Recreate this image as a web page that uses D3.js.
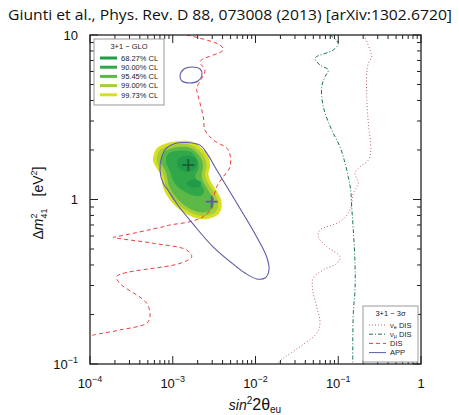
<!DOCTYPE html>
<html><head><meta charset="utf-8">
<script src="https://cdn.jsdelivr.net/npm/d3@7"></script>
<style>body{margin:0;background:#fff}svg{display:block}</style>
</head><body>
<svg id="c" width="459" height="415"></svg>
<script>
// ---- data: [sin^2 2theta, dm^2 (eV^2)] ----
const disCurve = [[1.474e-3,10],[3.72e-3,8.69],[4.08e-3,8.11],[2.135e-3,6.88],[2.45e-3,6.13],[2.24e-3,5.46],[1.947e-3,4.74],[2.04e-3,4.22],[2.34e-3,3.19],[2.45e-3,2.65],[3.09e-3,2.30],[4.69e-3,2.00],[4.92e-3,1.58],[4.08e-3,1.376],[3.40e-3,1.196],[2.82e-3,0.863],[2.34e-3,0.786],[1.616e-3,0.733],[9.26e-4,0.700],[7.69e-4,0.683],[2.10e-4,0.594],[1.913e-4,0.589],[5.82e-4,0.542],[1.474e-3,0.493],[1.694e-3,0.449],[1.224e-3,0.409],[2.10e-4,0.340],[2.30e-4,0.309],[4.84e-4,0.234],[5.31e-4,0.194],[4.84e-4,0.177],[2.30e-4,0.161],[1.096e-4,0.150],[1e-4,0.148]];
const appCurve = [[1.065e-3,2.19],[1.474e-3,2.22],[2.135e-3,2.14],[2.57e-3,1.92],[3.40e-3,1.51],[5.93e-3,0.952],[1.034e-2,0.592],[1.366e-2,0.447],[1.456e-2,0.373],[1.303e-2,0.333],[1.034e-2,0.329],[7.47e-3,0.357],[5.93e-3,0.389],[3.09e-3,0.514],[1.757e-3,0.710],[1.126e-3,0.939],[8.76e-4,1.142],[7.63e-4,1.26],[7.01e-4,1.51],[7.35e-4,1.81],[8.45e-4,2.06]];
const appIsland = [[1.224e-3,5.63],[1.368e-3,6.21],[1.709e-3,6.39],[2.135e-3,6.21],[2.257e-3,5.79],[2.02e-3,5.25],[1.616e-3,5.11],[1.294e-3,5.25]];
const numuDis = [[7.94e-2,10],[0.100,8.90],[8.71e-2,8.11],[5.24e-2,7.22],[6.02e-2,6.57],[7.58e-2,6.13],[6.92e-2,5.58],[6.31e-2,4.85],[6.60e-2,3.66],[8.33e-2,2.65],[0.105,2.09],[0.121,1.66],[0.132,1.376],[0.1414,1.142],[0.1454,0.904],[0.152,0.653],[0.1594,0.409],[0.1594,0.282],[0.152,0.203],[0.1495,0.1]];
const nueDis = [[0.205,10],[0.242,8.11],[0.254,7.38],[0.231,6.73],[0.221,5.85],[0.221,4.22],[0.231,2.91],[0.247,2.00],[0.231,1.738],[0.183,1.58],[0.1594,1.443],[0.175,1.254],[0.152,1.091],[0.1387,0.863],[0.105,0.733],[6.02e-2,0.653],[5.74e-2,0.594],[7.25e-2,0.517],[0.105,0.449],[9.58e-2,0.409],[6.60e-2,0.373],[4.99e-2,0.332],[4.91e-2,0.282],[5.49e-2,0.223],[6.02e-2,0.177],[5.49e-2,0.1537],[3.45e-2,0.1274],[2.17e-2,0.1083],[1.80e-2,0.1]];
const glo9973 = [[5.82e-4,1.82],[6.40e-4,2.05],[8.45e-4,2.20],[1.224e-3,2.27],[1.694e-3,2.25],[2.24e-3,2.05],[2.69e-3,1.82],[2.82e-3,1.58],[2.69e-3,1.443],[2.82e-3,1.314],[3.24e-3,1.170],[3.72e-3,1.040],[3.91e-3,0.926],[3.65e-3,0.824],[3.09e-3,0.780],[2.34e-3,0.758],[1.771e-3,0.780],[1.224e-3,0.863],[9.26e-4,0.993],[7.69e-4,1.170],[7.35e-4,1.376],[6.40e-4,1.548],[5.82e-4,1.697]];
const glo9900 = [[6.45e-4,1.81],[7.01e-4,2.00],[8.76e-4,2.11],[1.224e-3,2.18],[1.662e-3,2.14],[2.08e-3,1.99],[2.45e-3,1.79],[2.56e-3,1.577],[2.45e-3,1.429],[2.59e-3,1.296],[2.98e-3,1.158],[3.38e-3,1.036],[3.52e-3,0.926],[3.33e-3,0.845],[2.90e-3,0.811],[2.32e-3,0.794],[1.806e-3,0.816],[1.294e-3,0.894],[9.79e-4,1.021],[8.29e-4,1.191],[7.84e-4,1.380],[7.01e-4,1.554],[6.45e-4,1.690]];
const glo9545 = [[7.21e-4,1.79],[7.84e-4,1.945],[9.26e-4,2.03],[1.224e-3,2.09],[1.616e-3,2.06],[1.964e-3,1.918],[2.26e-3,1.738],[2.32e-3,1.565],[2.23e-3,1.409],[2.35e-3,1.278],[2.67e-3,1.142],[3.02e-3,1.028],[3.15e-3,0.939],[2.98e-3,0.876],[2.67e-3,0.845],[2.26e-3,0.834],[1.857e-3,0.851],[1.368e-3,0.926],[1.065e-3,1.050],[9.01e-4,1.208],[8.52e-4,1.390],[7.84e-4,1.554],[7.21e-4,1.667]];
const glo9000 = [[8.29e-4,1.79],[9.01e-4,1.918],[1.065e-3,1.972],[1.330e-3,1.986],[1.662e-3,1.945],[1.910e-3,1.81],[2.05e-3,1.667],[2.02e-3,1.511],[1.857e-3,1.390],[2.02e-3,1.296],[2.26e-3,1.208],[2.39e-3,1.126],[2.26e-3,1.065],[1.910e-3,1.050],[1.572e-3,1.080],[1.294e-3,1.142],[1.095e-3,1.225],[9.79e-4,1.351],[9.26e-4,1.490],[8.52e-4,1.62]];
const glo6827a = [[1.126e-3,1.690],[1.224e-3,1.80],[1.487e-3,1.838],[1.806e-3,1.80],[1.964e-3,1.690],[1.910e-3,1.565],[1.662e-3,1.490],[1.368e-3,1.479],[1.190e-3,1.554]];
const glo6827b = [[1.487e-3,1.26],[1.662e-3,1.314],[1.964e-3,1.314],[2.19e-3,1.269],[2.135e-3,1.208],[1.806e-3,1.183],[1.572e-3,1.199]];
const gloBest = [1.541e-3, 1.62];
const appBest = [2.96e-3, 0.970];
const gloLevels = ["68.27% CL","90.00% CL","95.45% CL","99.00% CL","99.73% CL"];
const gloColors = ["#1f9b4a","#30a84a","#5cb947","#a3cd3b","#d6df22"];
const xTicks = [1e-4,1e-3,1e-2,1e-1,1];
const xTickLabels = [["10","−4"],["10","−3"],["10","−2"],["10","−1"],["1",""]];
const yTicks = [0.1,1,10];
const yTickLabels = [["10","−1"],["1",""],["10",""]];
const titleText = "Giunti et al., Phys. Rev. D 88, 073008 (2013) [arXiv:1302.6720]";

// ---- drawing ----
const svg = d3.select("#c");
const L=90,R=421,T=35,B=364;
const x = d3.scaleLog().domain([1e-4,1]).range([L,R]);
const y = d3.scaleLog().domain([0.1,10]).range([B,T]);
const font = "'Liberation Sans', Arial, sans-serif";

svg.append("text").attr("x",8).attr("y",20).attr("font-family","'Open Sans', 'Noto Sans', sans-serif")
  .attr("font-size",15).attr("fill","#111").attr("textLength",444).attr("lengthAdjust","spacingAndGlyphs").text(titleText);

svg.append("clipPath").attr("id","clip").append("rect").attr("x",L).attr("y",T).attr("width",R-L).attr("height",B-T);
const g = svg.append("g").attr("clip-path","url(#clip)");

const closed = d3.line().x(d=>x(d[0])).y(d=>y(d[1])).curve(d3.curveCatmullRomClosed.alpha(0.5));
const open = d3.line().x(d=>x(d[0])).y(d=>y(d[1])).curve(d3.curveCatmullRom.alpha(0.5));

const regions = [[glo9973,gloColors[4]],[glo9900,gloColors[3]],[glo9545,gloColors[2]],[glo9000,gloColors[1]],[glo6827a,gloColors[0]],[glo6827b,gloColors[0]]];
regions.forEach(([d,c])=> g.append("path").attr("d",closed(d)).attr("fill",c).attr("stroke","none"));

const cDIS="#ee3b3b", cNUE="#c0606a", cNUMU="#17774a", cAPP="#5b5ba8";
g.append("path").attr("d",open(disCurve)).attr("fill","none").attr("stroke",cDIS).attr("stroke-width",1).attr("stroke-dasharray","4,3");
g.append("path").attr("d",open(nueDis)).attr("fill","none").attr("stroke",cNUE).attr("stroke-width",1).attr("stroke-dasharray","1,2.2");
g.append("path").attr("d",open(numuDis)).attr("fill","none").attr("stroke",cNUMU).attr("stroke-width",1).attr("stroke-dasharray","4,2,1,2");
g.append("path").attr("d",closed(appCurve)).attr("fill","none").attr("stroke",cAPP).attr("stroke-width",1.1);
g.append("path").attr("d",closed(appIsland)).attr("fill","none").attr("stroke",cAPP).attr("stroke-width",1.1);

function cross(p,col){
  const cx=x(p[0]), cy=y(p[1]), s=6;
  g.append("line").attr("x1",cx-s).attr("x2",cx+s).attr("y1",cy).attr("y2",cy).attr("stroke",col).attr("stroke-width",1.8);
  g.append("line").attr("x1",cx).attr("x2",cx).attr("y1",cy-s).attr("y2",cy+s).attr("stroke",col).attr("stroke-width",1.8);
}
cross(gloBest,"#1b5e34");
cross(appBest,cAPP);

// ---- ticks ----
const minorX=[], minorY=[];
for(let e=-4;e<0;e++) for(let k=2;k<=9;k++) minorX.push(k*Math.pow(10,e));
for(let e=-1;e<1;e++) for(let k=2;k<=9;k++) minorY.push(k*Math.pow(10,e));
const tk = svg.append("g").attr("stroke","#222").attr("stroke-width",1);
const MJ=8, MN=4;
xTicks.forEach(v=>{ tk.append("line").attr("x1",x(v)).attr("x2",x(v)).attr("y1",B).attr("y2",B-MJ);
  tk.append("line").attr("x1",x(v)).attr("x2",x(v)).attr("y1",T).attr("y2",T+MJ);});
minorX.forEach(v=>{ tk.append("line").attr("x1",x(v)).attr("x2",x(v)).attr("y1",B).attr("y2",B-MN);
  tk.append("line").attr("x1",x(v)).attr("x2",x(v)).attr("y1",T).attr("y2",T+MN);});
yTicks.forEach(v=>{ tk.append("line").attr("y1",y(v)).attr("y2",y(v)).attr("x1",L).attr("x2",L+MJ);
  tk.append("line").attr("y1",y(v)).attr("y2",y(v)).attr("x1",R).attr("x2",R-MJ);});
minorY.forEach(v=>{ tk.append("line").attr("y1",y(v)).attr("y2",y(v)).attr("x1",L).attr("x2",L+MN);
  tk.append("line").attr("y1",y(v)).attr("y2",y(v)).attr("x1",R).attr("x2",R-MN);});

svg.append("rect").attr("x",L).attr("y",T).attr("width",R-L).attr("height",B-T).attr("fill","none").attr("stroke","#222").attr("stroke-width",1.3);

// tick labels
xTicks.forEach((v,i)=>{
  const t = svg.append("text").attr("x",x(v)).attr("y",388).attr("text-anchor","middle").attr("font-family",font).attr("font-size",13).attr("fill","#111");
  t.append("tspan").text(xTickLabels[i][0]);
  if(xTickLabels[i][1]) t.append("tspan").attr("dy",-6).attr("font-size",9).text(xTickLabels[i][1]);
});
yTicks.forEach((v,i)=>{
  const t = svg.append("text").attr("x",78).attr("y",y(v)+4.5).attr("text-anchor","end").attr("font-family",font).attr("font-size",13).attr("fill","#111");
  t.append("tspan").text(yTickLabels[i][0]);
  if(yTickLabels[i][1]) t.append("tspan").attr("dy",-6).attr("font-size",9).text(yTickLabels[i][1]);
});

// axis titles
const xt = svg.append("text").attr("x",255).attr("y",410).attr("text-anchor","middle").attr("font-family",font).attr("font-size",14).attr("fill","#111");
xt.append("tspan").attr("font-style","italic").text("sin");
xt.append("tspan").attr("dy",-6).attr("font-size",10).text("2");
xt.append("tspan").attr("dy",6).attr("font-size",16).text("2θ");
xt.append("tspan").attr("dy",3).attr("font-size",10).text("eu");

const yt = svg.append("text").attr("transform","translate(43,203) rotate(-90)").attr("text-anchor","middle").attr("font-family",font).attr("font-size",14).attr("fill","#111");
yt.append("tspan").text("Δ");
yt.append("tspan").attr("font-style","italic").text("m");
yt.append("tspan").attr("dy",-6).attr("font-size",9).text("2");
yt.append("tspan").attr("dx",-5).attr("dy",10).attr("font-size",9).text("41");
yt.append("tspan").attr("dy",-4).attr("dx",12).text("[eV");
yt.append("tspan").attr("dy",-6).attr("font-size",9).text("2");
yt.append("tspan").attr("dy",6).text("]");

// legend GLO
const lg = svg.append("g").attr("font-family",font).attr("fill","#222");
lg.append("rect").attr("x",94).attr("y",39).attr("width",70).attr("height",66).attr("fill","#fff").attr("stroke","#999").attr("stroke-width",1);
lg.append("text").attr("x",129).attr("y",49).attr("text-anchor","middle").attr("font-size",7.5).text("3+1 − GLO");
gloLevels.forEach((s,i)=>{
  const yy = 58 + i*9.2;
  lg.append("line").attr("x1",100).attr("x2",117).attr("y1",yy).attr("y2",yy).attr("stroke",gloColors[i]).attr("stroke-width",3);
  lg.append("text").attr("x",121).attr("y",yy+2.7).attr("font-size",7.5).text(s);
});

// legend 3sigma
const l2 = svg.append("g").attr("font-family",font).attr("fill","#222");
l2.append("rect").attr("x",363).attr("y",306).attr("width",55).attr("height",56).attr("fill","#fff").attr("stroke","#999").attr("stroke-width",1);
l2.append("text").attr("x",390.5).attr("y",316).attr("text-anchor","middle").attr("font-size",7.5).text("3+1 − 3σ");
const leg2 = [[cNUE,"1,2","νe"],[cNUMU,"4,2,1,2","νμ"],[cDIS,"4,3","DIS"],[cAPP,null,"APP"]];
leg2.forEach((d,i)=>{
  const yy = 325 + i*9.2;
  const ln = l2.append("line").attr("x1",369).attr("x2",386).attr("y1",yy).attr("y2",yy).attr("stroke",d[0]).attr("stroke-width",1);
  if(d[1]) ln.attr("stroke-dasharray",d[1]);
  const t = l2.append("text").attr("x",390).attr("y",yy+2.7).attr("font-size",7.5);
  if(i<2){ t.append("tspan").text("ν"); t.append("tspan").attr("dy",1.5).attr("font-size",5.5).text(d[2].slice(1)); t.append("tspan").attr("dy",-1.5).text(" DIS"); }
  else t.text(d[2]);
});
</script>
</body></html>
